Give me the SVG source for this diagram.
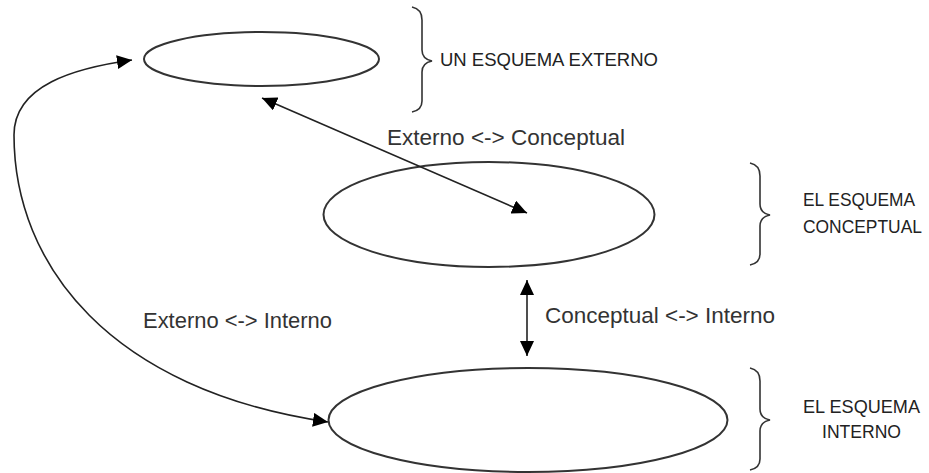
<svg xmlns="http://www.w3.org/2000/svg" width="929" height="473" viewBox="0 0 929 473">
<style>
.ell{fill:none;stroke:#333;stroke-width:2}
.brace{fill:none;stroke:#333;stroke-width:1.6}
.cap{font-family:"Liberation Sans",Arial,sans-serif;font-size:18px;fill:#222}
.lbl{font-family:"Liberation Sans",Arial,sans-serif;font-size:22px;fill:#333}
.conn{fill:none;stroke:#222;stroke-width:1.6}
</style>
<defs>
<marker id="ah" markerUnits="userSpaceOnUse" markerWidth="16" markerHeight="14" refX="15" refY="7" orient="auto-start-reverse" viewBox="0 0 16 14">
<path d="M0,0 L15,7 L0,14 z" fill="#000"/>
</marker>
</defs>
<rect width="929" height="473" fill="#fff"/>
<g id="node-externo">
<ellipse class="ell" cx="261.5" cy="59" rx="117.5" ry="27"/>
<path class="brace" d="M412,7 Q422,9 422,20 L422,50 Q422,59 432,61 Q422,63 422,72 L422,101 Q422,110 412,112"/>
<text class="cap" x="440" y="66" textLength="218" lengthAdjust="spacingAndGlyphs">UN ESQUEMA EXTERNO</text>
</g>
<g id="node-conceptual">
<ellipse class="ell" cx="489" cy="214.5" rx="165.5" ry="52.5"/>
<path class="brace" d="M750,163 Q760,165 760,176 L760,204 Q760,213 770,215 Q760,217 760,226 L760,254 Q760,263 750,265"/>
<text class="cap" x="803" y="206" textLength="112" lengthAdjust="spacingAndGlyphs">EL ESQUEMA</text>
<text class="cap" x="803" y="233" textLength="119" lengthAdjust="spacingAndGlyphs">CONCEPTUAL</text>
</g>
<g id="node-interno">
<ellipse class="ell" cx="528" cy="420" rx="199.5" ry="52"/>
<path class="brace" d="M750,368 Q760,370 760,381 L760,409 Q760,418 770,420 Q760,422 760,431 L760,459 Q760,468 750,470"/>
<text class="cap" x="803" y="413" textLength="117" lengthAdjust="spacingAndGlyphs">EL ESQUEMA</text>
<text class="cap" x="822" y="438" textLength="79" lengthAdjust="spacingAndGlyphs">INTERNO</text>
</g>
<g id="connectors">
<line class="conn" x1="262" y1="98" x2="527" y2="213" marker-start="url(#ah)" marker-end="url(#ah)"/>
<line class="conn" x1="527" y1="280" x2="527" y2="356" marker-start="url(#ah)" marker-end="url(#ah)"/>
<path class="conn" d="M132,60 C75,68 14,85 14,135 C14,265 110,390 328,422" marker-start="url(#ah)" marker-end="url(#ah)"/>
<text class="lbl" x="387" y="145" textLength="238" lengthAdjust="spacingAndGlyphs">Externo &lt;-&gt; Conceptual</text>
<text class="lbl" x="545" y="323" textLength="230" lengthAdjust="spacingAndGlyphs">Conceptual &lt;-&gt; Interno</text>
<text class="lbl" x="143" y="328" textLength="189" lengthAdjust="spacingAndGlyphs">Externo &lt;-&gt; Interno</text>
</g>
</svg>
